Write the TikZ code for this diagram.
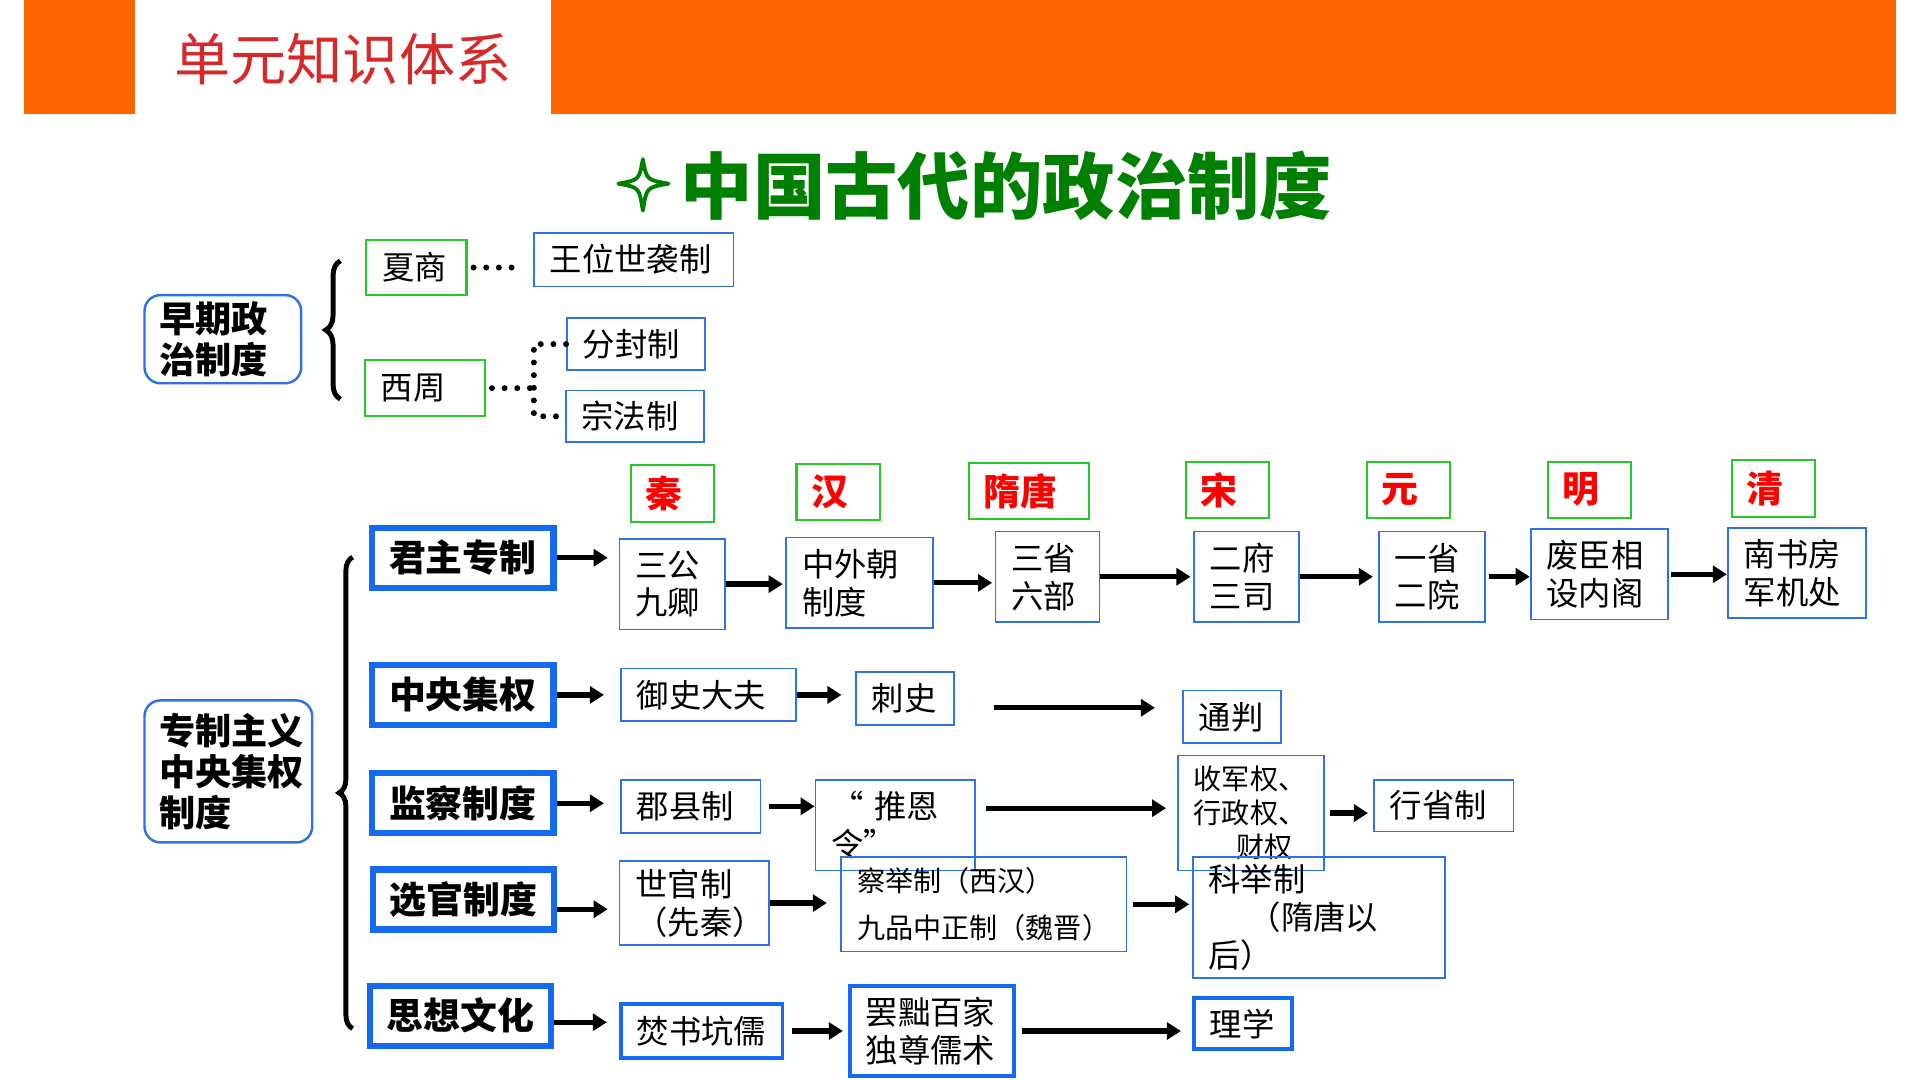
\documentclass[tikz,border=0pt]{standalone}
\usepackage{fontspec}
\setmainfont{Noto Sans CJK SC}
\usetikzlibrary{arrows.meta, decorations.pathreplacing}

\definecolor{barorange}{RGB}{255,102,0}
\definecolor{headred}{RGB}{214,42,42}
\definecolor{titlegreen}{RGB}{0,128,0}
\definecolor{boxblue}{RGB}{45,115,225}
\definecolor{catblue}{RGB}{20,105,240}
\definecolor{dyngreen}{RGB}{40,200,40}
\definecolor{dynred}{RGB}{255,0,0}

\newcommand\boxfont{\fontsize{9.2pt}{10.8pt}\selectfont}
\newcommand\catfont{\fontsize{10.5pt}{12pt}\selectfont\bfseries}
\newcommand\rfont{\fontsize{10.3pt}{11.7pt}\selectfont\bfseries}
\newcommand\titlefont{\fontsize{20.6pt}{24pt}\selectfont\bfseries}

\tikzset{
  pbox/.style 2 args={draw=boxblue, line width=0.5pt, font=\boxfont, align=left,
    inner ysep=0pt, inner xsep=13*0.1225mm, minimum width=#1*0.1225mm,
    minimum height=#2*0.1225mm, text width=(#1-26)*0.1225mm},
  gbox/.style 2 args={pbox={#1}{#2}, draw=dyngreen, line width=0.6pt},
  thickbox/.style 2 args={pbox={#1}{#2}, draw=catblue, line width=1.1pt},
  catbox/.style={draw=catblue, line width=1.8pt, font=\catfont, inner sep=0pt,
    minimum width=148*0.1225mm, minimum height=49*0.1225mm},
  dynbox/.style={draw=dyngreen, line width=0.6pt, text=dynred, font=\catfont,
    align=left, inner ysep=0pt, inner xsep=12*0.1225mm,
    minimum width=#1*0.1225mm, minimum height=46*0.1225mm,
    text width=(#1-24)*0.1225mm},
  rbox/.style 2 args={draw=boxblue, line width=0.7pt, rounded corners=1.6mm,
    font=\rfont, align=left, inner ysep=0pt, inner xsep=12*0.1225mm,
    minimum width=#1*0.1225mm, minimum height=#2*0.1225mm,
    text width=(#1-24)*0.1225mm},
  arr/.style={line width=1.5pt, -{Triangle[length=4pt,width=4.8pt]}},
  dotline/.style={line width=1.7pt, line cap=round, dash pattern=on 0pt off 3.6pt},
  brc/.style={line width=1.4pt, decorate, decoration={brace, amplitude=#1}},
}

\begin{document}
\begin{tikzpicture}[x=0.1225mm, y=-0.1225mm]
\useasboundingbox (0,0) rectangle (1568,882);
% header
\fill[barorange] (20,0) rectangle (1548,93);
\fill[white] (110,0) rectangle (450,93);
\node[text=headred, font=\fontsize{16pt}{18pt}\selectfont] (head) at (280,48) {单元知识体系};
% title
\draw[titlegreen, line width=1.1pt, line join=round] (525,130) .. controls (528,147) .. (546,150)
  .. controls (528,153) .. (525,172) .. controls (522,153) .. (505,150) .. controls (522,147) .. cycle;
\node[text=titlegreen, font=\titlefont] (title) at (822,152) {中国古代的政治制度};

% early systems
\node[rbox={128}{72}] (early) at (182,277) {早期政\\治制度};
\draw[brc=1.47mm] (278,326) -- (278,213);
\node[gbox={82}{45}] (xiashang) at (340,218.5) {夏商};
\node[pbox={163}{44}] (wangwei) at (517.5,212) {王位世袭制};
\node[gbox={98}{46}] (xizhou) at (347,317) {西周};
\node[pbox={113}{42}] (fenfeng) at (519.5,281) {分封制};
\node[pbox={113}{42}] (zongfa) at (518.5,340) {宗法制};
\coordinate (fork) at (436,317);
\draw[dotline, shorten <=0.6mm, shorten >=1.3mm] (xiashang.east) -- (xiashang.east -| wangwei.west);
\draw[dotline, shorten <=0.6mm] (xizhou.east) -- (fork);
\draw[dotline] (fenfeng.west) -| (fork) |- (zongfa.west);

% dynasties
\node[dynbox=68] (qin) at (549,403) {秦};
\node[dynbox=68] (han) at (684.5,402) {汉};
\node[dynbox=98] (suitang) at (840,401) {隋唐};
\node[dynbox=68] (song) at (1002.5,400) {宋};
\node[dynbox=68] (yuan) at (1150.5,400) {元};
\node[dynbox=68] (ming) at (1298,400) {明};
\node[dynbox=68] (qing) at (1448.5,399) {清};

% autocracy
\node[rbox={137}{116}] (zhuanzhi) at (186.5,630) {专制主义\\中央集权\\制度};
\draw[brc=1.35mm] (288,840) -- (288,455);
\node[catbox] (junzhu) at (378,455.5) {君主专制};
\node[catbox] (zhongyang) at (378,567.5) {中央集权};
\node[catbox] (jiancha) at (378,656) {监察制度};
\node[catbox] (xuanguan) at (378.5,734.5) {选官制度};
\node[catbox] (sixiang) at (376,829.5) {思想文化};

\node[pbox={86}{74}] (sangong) at (549,477) {三公\\九卿};
\node[pbox={120}{74}] (zhongwai) at (702,476) {中外朝\\制度};
\node[pbox={85}{74}] (sansheng) at (855.5,471) {三省\\六部};
\node[pbox={86}{74}] (erfu) at (1018,471) {二府\\三司};
\node[pbox={87}{74}] (yisheng) at (1169.5,471) {一省\\二院};
\node[pbox={112}{74}] (feichen) at (1306,469) {废臣相\\设内阁};
\node[pbox={113}{74}] (nanshu) at (1467.5,468) {南书房\\军机处};

\node[pbox={143}{43}] (yushi) at (578.5,567.5) {御史大夫};
\node[pbox={80}{43}] (cishi) at (739,570.5) {刺史};
\node[pbox={80}{43}] (tongpan) at (1006,585.5) {通判};
\coordinate (tpfrom) at (812,578);

\node[pbox={114}{43}] (junxian) at (564,658.5) {郡县制};
\node[pbox={130}{74}] (tuien) at (731,674) {“ 推恩\\令”};
\node[pbox={119}{94}, font=\fontsize{8pt}{9.6pt}\selectfont] (shoujun) at (1021.5,664)
  {收军权、\\行政权、\\\hspace*{1.5em}财权};
\node[pbox={114}{42}] (xingsheng) at (1179,658) {行省制};

\node[pbox={122}{69}] (shiguan) at (567,737.5) {世官制\\（先秦）};
\node[pbox={233}{77}, font=\fontsize{8pt}{13.6pt}\selectfont] (chaju) at (803.5,738.5)
  {察举制（西汉）\\九品中正制（魏晋）};
\node[pbox={206}{99}] (keju) at (1077,749.5) {科举制\\\hspace*{1.25em}（隋唐以\\后）};

\node[thickbox={132}{44}] (fenshu) at (573,842) {焚书坑儒};
\node[thickbox={134}{74}] (bachu) at (761,842) {罢黜百家\\独尊儒术};
\node[thickbox={80}{42}] (lixue) at (1015,836) {理学};

% arrows
\draw[arr, shorten >=1.1mm] (junzhu.east) -- (junzhu.east -| sangong.west);
\draw[arr, shorten >=0.25mm] (sangong.east) -- (sangong.east -| zhongwai.west);
\draw[arr, shorten >=0.25mm] (zhongwai.east) -- (zhongwai.east -| sansheng.west);
\draw[arr, shorten >=0.25mm] (sansheng.east) -- (sansheng.east -| erfu.west);
\draw[arr, shorten >=0.5mm] (erfu.east) -- (erfu.east -| yisheng.west);
\draw[arr, shorten <=0.25mm] (yisheng.east) -- (yisheng.east -| feichen.west);
\draw[arr, shorten <=0.25mm] (feichen.east) -- (feichen.east -| nanshu.west);

\draw[arr, shorten >=1.6mm] (zhongyang.east) -- (zhongyang.east -| yushi.west);
\draw[arr, shorten >=1.35mm] (yushi.east) -- (yushi.east -| cishi.west);
\draw[arr, shorten >=2.7mm] (tpfrom) -- (tpfrom -| tongpan.west);

\draw[arr, shorten >=1.6mm] (jiancha.east) -- (jiancha.east -| junxian.west);
\draw[arr, shorten <=0.75mm] (junxian.east) -- (junxian.east -| tuien.west);
\draw[arr, shorten <=1mm, shorten >=1.1mm] (tuien.12) -- (tuien.12 -| shoujun.west);
\draw[arr, shorten <=0.5mm, shorten >=0.5mm] (shoujun.east) -- (shoujun.east -| xingsheng.west);

\draw[arr, shorten >=1.1mm] (xuanguan.-6) -- (xuanguan.-6 -| shiguan.west);
\draw[arr, shorten >=1.35mm] (shiguan.east) -- (shiguan.east -| chaju.west);
\draw[arr, shorten <=0.6mm, shorten >=0.25mm] (chaju.east) -- (chaju.east -| keju.west);

\draw[arr, shorten >=1.2mm] (sixiang.-4) -- (sixiang.-4 -| fenshu.west);
\draw[arr, shorten <=0.75mm, shorten >=0.5mm] (fenshu.east) -- (fenshu.east -| bachu.west);
\draw[arr, shorten <=0.6mm, shorten >=1.1mm] (bachu.east) -- (bachu.east -| lixue.west);
\end{tikzpicture}
\end{document}
